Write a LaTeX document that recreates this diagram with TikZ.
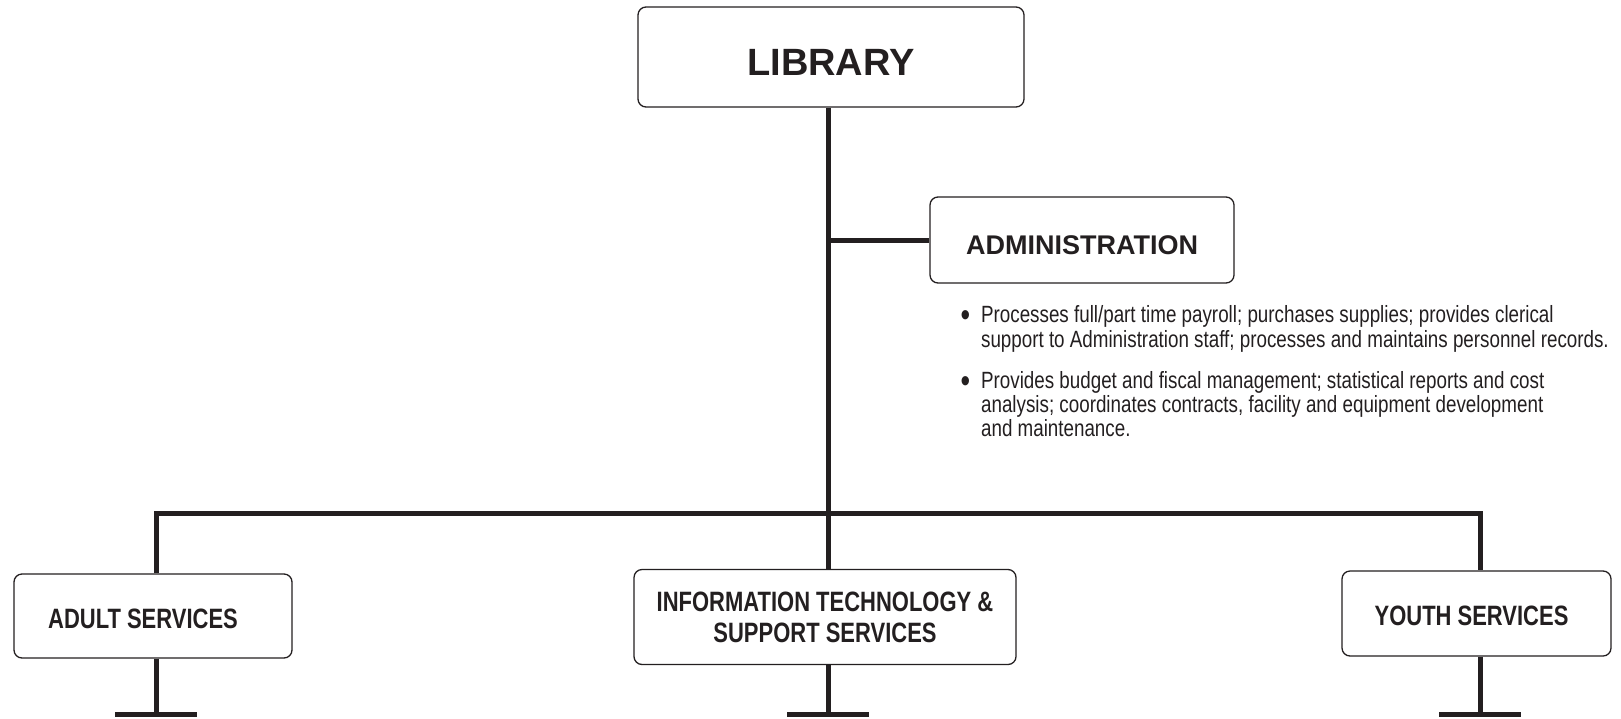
\documentclass[tikz,border=0pt]{standalone}
\usepackage{fontspec}
\setmainfont{Liberation Sans}
\newfontfamily\condfont[FakeStretch=0.785]{Liberation Sans}
\newfontfamily\notefont[FakeStretch=0.8]{Liberation Sans}
\usetikzlibrary{positioning}
\definecolor{ink}{HTML}{231F20}
\newcommand{\bigdot}{\raisebox{-4pt}{\scalebox{1.45}{\textbullet}}}
\tikzset{
  unitbox/.style={draw=ink, line width=1.3pt, rounded corners=8pt, text=ink, align=center, inner sep=0pt},
  trunk/.style={draw=ink, line width=5pt, line join=miter},
  notes/.style={text=ink, inner sep=0pt, align=left}
}

\begin{document}
\begin{tikzpicture}[x=1pt, y=-1pt]
    \useasboundingbox (0,0) rectangle (1621,718);

    % 画方框
    \node[unitbox, minimum width=386pt, minimum height=100pt, text height=37pt, font=\fontsize{38}{40}\selectfont\bfseries] (library) at (831,57) {LIBRARY};
    \node[unitbox, minimum width=304pt, minimum height=86pt, text height=29pt, font=\fontsize{27}{28}\selectfont\bfseries] (admin) at (1082,240) {ADMINISTRATION};
    \node[unitbox, minimum width=278pt, minimum height=84pt, text height=25pt, font=\fontsize{28}{31}\condfont\bfseries] (adult) at (153,616) {ADULT SERVICES\hspace*{20pt}\mbox{}};
    \node[unitbox, minimum width=382pt, minimum height=95pt, font=\fontsize{28}{31}\condfont\bfseries] (it) at (825,617) {INFORMATION TECHNOLOGY \&\\SUPPORT SERVICES};
    \node[unitbox, minimum width=269pt, minimum height=85pt, text height=25pt, font=\fontsize{28}{31}\condfont\bfseries] (youth) at (1476.5,613.5) {YOUTH SERVICES\hspace*{10pt}\mbox{}};

    % 画说明
    \node[notes, anchor=north west, font=\fontsize{23.5}{24}\notefont] (adminnotes) at ([xshift=31pt,yshift=-22pt]admin.south west) {%
      \begin{tabular}{@{}l@{\hspace{11pt}}l@{}}
        \bigdot & Processes full/part time payroll; purchases supplies; provides clerical\\
                & support to Administration staff; processes and maintains personnel records.\\[17pt]
        \bigdot & Provides budget and fiscal management; statistical reports and cost\\
                & analysis; coordinates contracts, facility and equipment development\\
                & and maintenance.
      \end{tabular}};

    % 画连线
    \coordinate (bus) at (828,513);
    \coordinate (busL) at (156,513);
    \coordinate (busR) at (1480,513);
    \draw[trunk] (library.south -| bus) -- (bus);
    \draw[trunk] (admin.west -| bus) -- (admin.west);
    \draw[trunk] (adult.north -| busL) |- (bus) -| (youth.north -| busR);
    \draw[trunk] (bus) -- (it.north -| bus);

    % 画底部短横
    \coordinate (adultEnd) at (156,714);
    \coordinate (itEnd) at (828,714);
    \coordinate (youthEnd) at (1480,714);
    \draw[trunk] (adult.south -| adultEnd) -- (adultEnd);
    \draw[trunk] (it.south -| itEnd) -- (itEnd);
    \draw[trunk] (youth.south -| youthEnd) -- (youthEnd);
    \draw[trunk] ([xshift=-41pt]adultEnd) -- ([xshift=41pt]adultEnd);
    \draw[trunk] ([xshift=-41pt]itEnd) -- ([xshift=41pt]itEnd);
    \draw[trunk] ([xshift=-41pt]youthEnd) -- ([xshift=41pt]youthEnd);
\end{tikzpicture}
\end{document}
